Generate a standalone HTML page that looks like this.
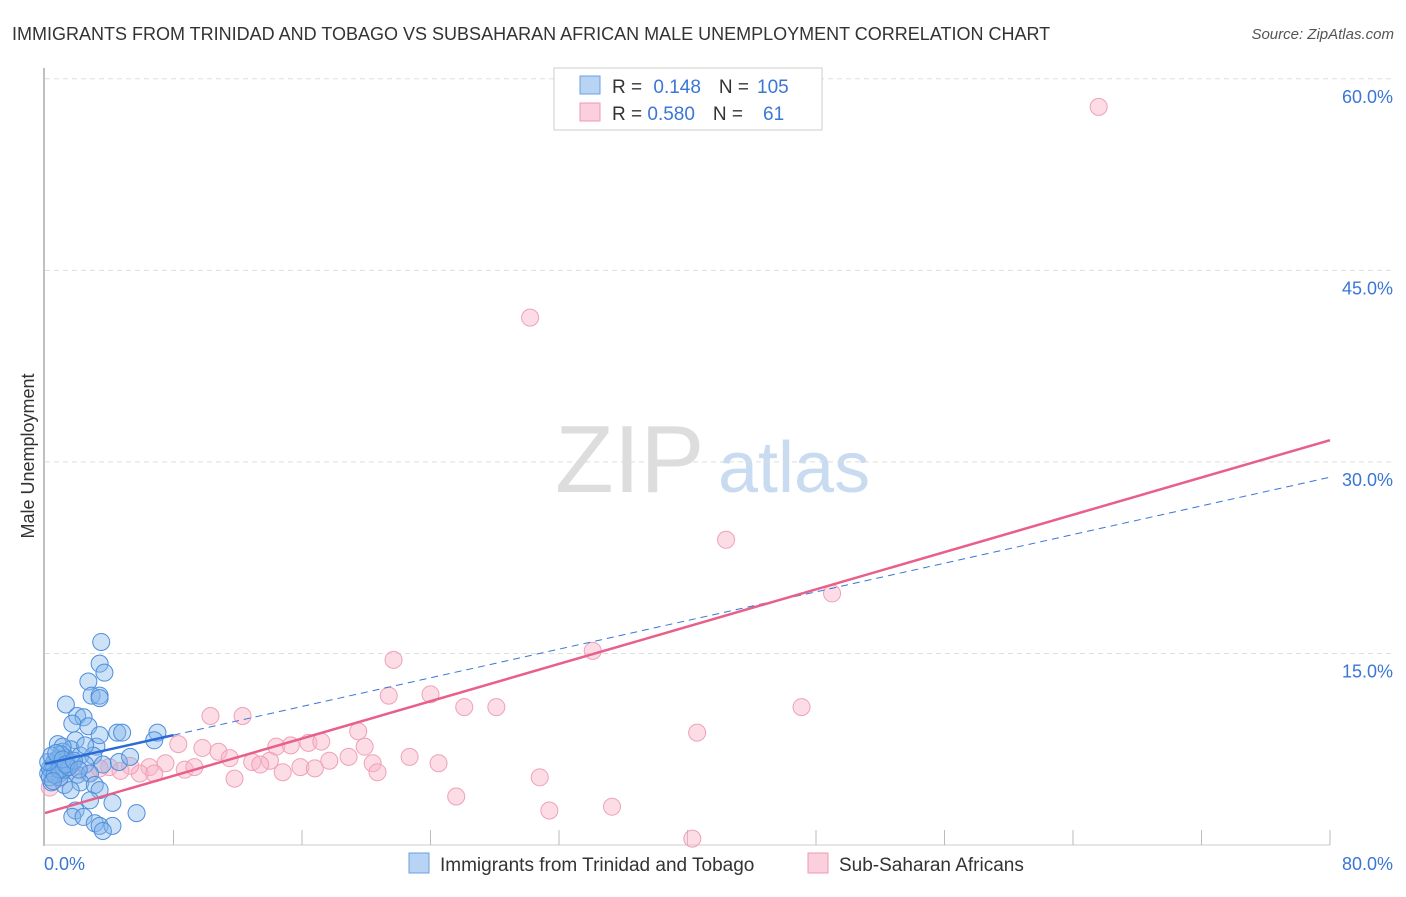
<!DOCTYPE html>
<html><head><meta charset="utf-8"><style>
body{margin:0;background:#fff;font-family:"Liberation Sans",sans-serif;}
svg text{font-family:"Liberation Sans",sans-serif;}
</style></head><body>
<svg id="chart" width="1406" height="892">
<text x="12" y="40" font-size="18" fill="#333">IMMIGRANTS FROM TRINIDAD AND TOBAGO VS SUBSAHARAN AFRICAN MALE UNEMPLOYMENT CORRELATION CHART</text>
<text x="1394" y="39" font-size="15" fill="#555" font-style="italic" text-anchor="end">Source: ZipAtlas.com</text>
<text x="34" y="456" font-size="18" fill="#333" transform="rotate(-90 34 456)" text-anchor="middle">Male Unemployment</text>
<text x="555" y="492" font-size="96" fill="#ddd" font-family="Liberation Serif">ZIP</text>
<text x="718" y="492" font-size="72" fill="#c9dbf0">atlas</text>
<g id="grid"></g><g id="pts"></g><g id="lines"></g>
<g>
<rect x="554" y="68" width="268" height="62" fill="#fff" stroke="#ccc"/>
<rect x="580" y="76" width="20" height="18" fill="#b8d4f5" stroke="#6a9fe0"/>
<rect x="580" y="103" width="20" height="18" fill="#fbcfdc" stroke="#ee9ab4"/>
<text x="612" y="93" font-size="19" fill="#333">R = <tspan fill="#3a76d6" dx="6">0.148</tspan><tspan dx="18" fill="#333">N =</tspan><tspan dx="8" fill="#3a76d6">105</tspan></text>
<text x="612" y="120" font-size="19" fill="#333">R = <tspan fill="#3a76d6">0.580</tspan><tspan dx="18" fill="#333">N =</tspan><tspan dx="20" fill="#3a76d6">61</tspan></text>
</g>
<g>
<rect x="409" y="853" width="20" height="20" fill="#b8d4f5" stroke="#6a9fe0"/>
<text x="440" y="871" font-size="19" fill="#333">Immigrants from Trinidad and Tobago</text>
<rect x="808" y="853" width="20" height="20" fill="#fbcfdc" stroke="#ee9ab4"/>
<text x="839" y="871" font-size="19" fill="#333">Sub-Saharan Africans</text>
</g>
</svg>
<script>
const yTicks=[15,30,45,60];
const yTickLabels=["15.0%","30.0%","45.0%","60.0%"];
const xTickLabels=["0.0%","80.0%"];
const blueX=[3.5,3.4,3.7,2.7,2.9,3.4,3.4,1.3,2.0,2.4,1.7,2.7,4.5,4.8,7.0,6.8,0.8,1.9,3.2,1.6,1.1,2.2,3.0,1.3,0.6,1.7,2.5,3.6,4.6,5.3,0.4,0.9,2.0,2.8,0.4,1.2,2.2,3.1,1.6,3.4,2.8,4.2,1.9,1.7,2.4,5.7,3.1,3.4,4.2,3.6,0.9,0.6,1.4,0.2,1.1,2.5,3.4,0.3,0.5,0.8,1.0,1.2,0.3,0.6,0.9,1.5,0.2,0.4,0.7,1.1,1.3,0.5,1.8,2.1];
const blueY=[15.9,14.2,13.5,12.8,11.7,11.7,11.5,11.0,10.1,10.0,9.5,9.3,8.8,8.8,8.8,8.2,7.9,8.2,7.7,7.5,7.3,7.0,7.0,6.8,6.6,6.4,6.3,6.3,6.5,6.9,5.8,5.6,5.5,5.6,4.9,4.7,4.9,4.7,4.3,4.3,3.5,3.3,2.7,2.2,2.2,2.5,1.7,1.5,1.5,1.1,5.3,6.2,6.1,5.6,7.7,7.8,8.6,6.0,6.3,6.7,7.1,5.9,5.3,5.5,5.9,6.1,6.5,7.0,7.2,6.7,6.3,5.0,6.6,5.9];
const pinkX=[65.6,30.2,42.4,49.0,34.1,21.7,21.4,24.0,26.1,28.1,47.1,10.3,12.3,40.6,8.3,19.5,9.8,10.8,14.4,15.3,16.4,17.2,19.9,11.5,12.9,14.0,18.9,17.7,15.9,22.7,24.5,20.4,20.7,11.8,14.8,6.5,7.5,8.7,9.3,5.9,5.3,4.0,30.8,25.6,31.4,35.3,40.3,4.7,3.4,0.9,0.3,1.6,2.7,6.8,16.8,13.4];
const pinkY=[57.8,41.3,23.9,19.7,15.2,14.5,11.7,11.8,10.8,10.8,10.8,10.1,10.1,8.8,7.9,8.9,7.6,7.3,7.7,7.8,8.0,8.1,7.7,6.8,6.5,6.6,6.9,6.6,6.1,6.9,6.4,6.4,5.7,5.2,5.7,6.1,6.4,5.9,6.1,5.6,6.2,6.1,5.3,3.8,2.7,3.0,0.5,5.8,6.0,5.2,4.5,5.9,5.6,5.6,6.0,6.3];
const pinkLine=[2.5,31.7];
const blueLine=[6.36,28.8];
const NS="http://www.w3.org/2000/svg";
const X0=45,X1=1330,Y0=845,YPX=12.77;
const sx=v=>X0+(v/80)*(X1-X0), sy=v=>Y0-v*YPX;
function mk(t,a,p){const e=document.createElementNS(NS,t);for(const k in a)e.setAttribute(k,a[k]);p.appendChild(e);return e;}
const grid=document.getElementById('grid');
const ax=mk('line',{x1:44,y1:68,x2:44,y2:846,stroke:'#aaa','stroke-width':1.5},grid);


const bx=mk('line',{x1:44,y1:845,x2:1330,y2:845,stroke:'#ccc'},grid);


yTicks.forEach((t,i)=>{
 const g=mk('line',{x1:45,x2:1392,y1:sy(t),y2:sy(t),stroke:'#ddd','stroke-dasharray':'5,4'},grid);
 
 
 const l=mk('text',{x:1393,y:sy(t)+24,'font-size':18,fill:'#3a76d6','text-anchor':'end'},grid);l.textContent=yTickLabels[i];
 
 
});
for(let i=1;i<=10;i++){const x=sx(i*8);
 const t=mk('line',{x1:x,x2:x,y1:830,y2:845,stroke:'#bbb'},grid);
 
 }
const xl0=mk('text',{x:44,y:870,'font-size':18,fill:'#3a76d6'},grid);xl0.textContent=xTickLabels[0];


const xl1=mk('text',{x:1393,y:870,'font-size':18,fill:'#3a76d6','text-anchor':'end'},grid);xl1.textContent=xTickLabels[1];


const pts=document.getElementById('pts');
pinkX.forEach((v,i)=>{const c=mk('circle',{cx:sx(v),cy:sy(pinkY[i]),r:8.5,fill:'rgba(248,180,200,0.45)',stroke:'#f0a0b8','stroke-width':1},pts);
 
 });
blueX.forEach((v,i)=>{const c=mk('circle',{cx:sx(v),cy:sy(blueY[i]),r:8.5,fill:'rgba(130,180,235,0.4)',stroke:'#4d8fdc','stroke-width':1},pts);
 
 });
const lines=document.getElementById('lines');
const bl=v=>blueLine[0]+(blueLine[1]-blueLine[0])*(v-0)/80*80/80;
const blueAt=v=>blueLine[0]+(blueLine[1]-blueLine[0])*v/80;
const bd=mk('line',{x1:sx(8),y1:sy(blueAt(8)),x2:sx(80),y2:sy(blueAt(80)),stroke:'#3a76d6','stroke-width':1,'stroke-dasharray':'7,5'},lines);


const bs=mk('line',{x1:sx(0),y1:sy(blueAt(0)),x2:sx(8),y2:sy(blueAt(8)),stroke:'#2a6bd6','stroke-width':2.5},lines);


const pl=mk('line',{x1:sx(0),y1:sy(pinkLine[0]),x2:sx(80),y2:sy(pinkLine[1]),stroke:'#e8608a','stroke-width':2.5},lines);


</script>
</body></html>
